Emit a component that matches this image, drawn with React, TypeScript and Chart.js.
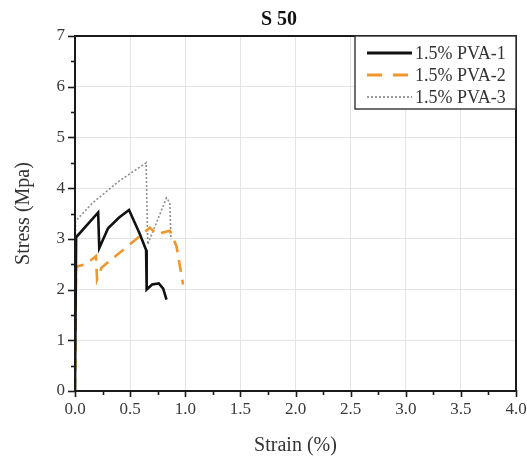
import { useEffect, useRef } from "react";
import { Chart, registerables } from "chart.js";

Chart.register(...registerables);

const chartTitle = "S 50";
const xAxisTitle = "Strain (%)";
const yAxisTitle = "Stress (Mpa)";
const seriesLabels = ["1.5% PVA-1", "1.5% PVA-2", "1.5% PVA-3"];

const pva1Strain = [0, 0.01, 0.21, 0.22, 0.30, 0.40, 0.49, 0.585, 0.645, 0.65, 0.70, 0.76, 0.80, 0.83];
const pva1Stress = [0, 3.03, 3.52, 2.82, 3.21, 3.42, 3.57, 3.11, 2.78, 2.0, 2.10, 2.12, 2.02, 1.80];

const pva2Strain = [0, 0.01, 0.10, 0.19, 0.20, 0.24, 0.68, 0.74, 0.86, 0.92, 0.98];
const pva2Stress = [0, 2.45, 2.50, 2.66, 2.20, 2.43, 3.22, 3.09, 3.16, 2.86, 2.10];

const pva3Strain = [0, 0.005, 0.16, 0.40, 0.645, 0.66, 0.75, 0.83, 0.86, 0.87];
const pva3Stress = [0, 3.35, 3.71, 4.14, 4.50, 2.89, 3.38, 3.81, 3.71, 2.99];

const xMin = 0, xMax = 4, xMajorStep = 0.5, xMinorStep = 0.25;
const yMin = 0, yMax = 7, yMajorStep = 1, yMinorStep = 0.5;

const colors = ["#111111", "#f0962e", "#8f8f8f"];
const widths = [2.6, 2.6, 1.6];
const dashes: number[][] = [[], [12, 8], [2, 2]];

const SERIF = '"Liberation Serif", "Times New Roman", serif';

const toPoints = (xs: number[], ys: number[]) => xs.map((x, i) => ({ x, y: ys[i] }));

const decorPlugin = {
  id: "decor",
  afterDraw(chart: any) {
    const ctx = chart.ctx as CanvasRenderingContext2D;
    const { left, right, top, bottom } = chart.chartArea;
    const xs = chart.scales.x;
    const ys = chart.scales.y;
    ctx.save();

    // tick marks
    ctx.strokeStyle = "#1a1a1a";
    ctx.lineWidth = 1.6;
    for (let v = xMin; v <= xMax + 1e-9; v += xMinorStep) {
      const px = Math.round(xs.getPixelForValue(v)) + 0.5;
      const major = Math.abs(v / xMajorStep - Math.round(v / xMajorStep)) < 1e-6;
      ctx.beginPath();
      ctx.moveTo(px, bottom - (major ? 1 : 0));
      ctx.lineTo(px, bottom + (major ? 6 : 4));
      ctx.stroke();
    }
    for (let v = yMin; v <= yMax + 1e-9; v += yMinorStep) {
      const py = Math.round(ys.getPixelForValue(v)) + 0.5;
      const major = Math.abs(v / yMajorStep - Math.round(v / yMajorStep)) < 1e-6;
      ctx.beginPath();
      ctx.moveTo(left + (major ? 1 : 0), py);
      ctx.lineTo(left - (major ? 7 : 4), py);
      ctx.stroke();
    }

    // x tick labels
    ctx.fillStyle = "#3a3a3a";
    ctx.font = `17px ${SERIF}`;
    ctx.textAlign = "center";
    ctx.textBaseline = "top";
    xs.ticks.forEach((t: any) => {
      ctx.fillText(Number(t.value).toFixed(1), xs.getPixelForValue(t.value), bottom + 10);
    });

    // frame
    ctx.strokeStyle = "#1a1a1a";
    ctx.lineWidth = 2;
    ctx.strokeRect(left, top, right - left, bottom - top);

    // legend
    const lx0 = 355, ly0 = top, lx1 = right, ly1 = 109;
    ctx.fillStyle = "#ffffff";
    ctx.fillRect(lx0, ly0, lx1 - lx0, ly1 - ly0);
    ctx.strokeStyle = "#333333";
    ctx.lineWidth = 1.4;
    ctx.strokeRect(lx0, ly0, lx1 - lx0, ly1 - ly0);
    ctx.font = `18px ${SERIF}`;
    ctx.textAlign = "left";
    ctx.textBaseline = "middle";
    seriesLabels.forEach((lab, i) => {
      const yy = 53 + i * 22;
      ctx.beginPath();
      ctx.strokeStyle = colors[i];
      ctx.lineWidth = widths[i] + (i === 2 ? 0.2 : 0.6);
      ctx.setLineDash(i === 1 ? [15, 11] : dashes[i]);
      ctx.moveTo(367, yy);
      ctx.lineTo(412, yy);
      ctx.stroke();
      ctx.setLineDash([]);
      ctx.fillStyle = "#333333";
      ctx.fillText(lab, 415, yy + 1);
    });

    // titles
    ctx.fillStyle = "#111111";
    ctx.font = `bold 20px ${SERIF}`;
    ctx.textAlign = "center";
    ctx.textBaseline = "alphabetic";
    ctx.fillText(chartTitle, 279, 25);

    ctx.fillStyle = "#333333";
    ctx.font = `20px ${SERIF}`;
    ctx.textBaseline = "middle";
    ctx.fillText(xAxisTitle, (left + right) / 2, 446);

    ctx.translate(24, (top + bottom) / 2);
    ctx.rotate(-Math.PI / 2);
    ctx.fillText(yAxisTitle, 0, 0);
    ctx.restore();
  },
};

export default function App() {
  const canvasRef = useRef<HTMLCanvasElement | null>(null);

  useEffect(() => {
    const prevMargin = document.body.style.margin;
    document.body.style.margin = "0";
    if (!canvasRef.current) return;
    const seriesX = [pva1Strain, pva2Strain, pva3Strain];
    const seriesY = [pva1Stress, pva2Stress, pva3Stress];
    const chart = new Chart(canvasRef.current, {
      type: "scatter",
      data: {
        datasets: seriesLabels.map((label, i) => ({
          label,
          data: toPoints(seriesX[i], seriesY[i]),
          showLine: true,
          borderColor: colors[i],
          backgroundColor: colors[i],
          borderWidth: widths[i],
          borderDash: dashes[i],
          pointRadius: 0,
          pointHoverRadius: 0,
          tension: 0,
          fill: false,
        })),
      },
      options: {
        animation: false,
        responsive: false,
        maintainAspectRatio: false,
        events: [],
        layout: { padding: { top: 36, right: 11, left: 8, bottom: 8 } },
        plugins: {
          legend: { display: false },
          title: { display: false },
          tooltip: { enabled: false },
        },
        scales: {
          x: {
            type: "linear",
            min: xMin,
            max: xMax,
            afterFit: (s: any) => { s.height = 63; s.paddingLeft = 0; s.paddingRight = 0; },
            afterBuildTicks: (s: any) => {
              const t = [];
              for (let v = xMin; v <= xMax + 1e-9; v += xMajorStep) t.push({ value: Math.round(v * 100) / 100 });
              s.ticks = t;
            },
            ticks: { display: false, autoSkip: false },
            grid: { color: "#e4e4e4", lineWidth: 1, drawTicks: false },
            border: { display: false },
          },
          y: {
            type: "linear",
            min: yMin,
            max: yMax,
            afterFit: (s: any) => { s.width = 67; s.paddingTop = 0; s.paddingBottom = 0; },
            afterBuildTicks: (s: any) => {
              const t = [];
              for (let v = yMin; v <= yMax + 1e-9; v += yMajorStep) t.push({ value: v });
              s.ticks = t;
            },
            ticks: {
              font: { family: SERIF, size: 17 },
              color: "#3a3a3a",
              padding: 10,
              autoSkip: false,
              callback: (v: any) => String(v),
            },
            grid: { color: "#e4e4e4", lineWidth: 1, drawTicks: false },
            border: { display: false },
          },
        },
      },
      plugins: [decorPlugin],
    });
    return () => {
      chart.destroy();
      document.body.style.margin = prevMargin;
    };
  }, []);

  return (
    <div style={{ width: 527, height: 462 }}>
      <canvas ref={canvasRef} width={527} height={462} style={{ display: "block" }} />
    </div>
  );
}
